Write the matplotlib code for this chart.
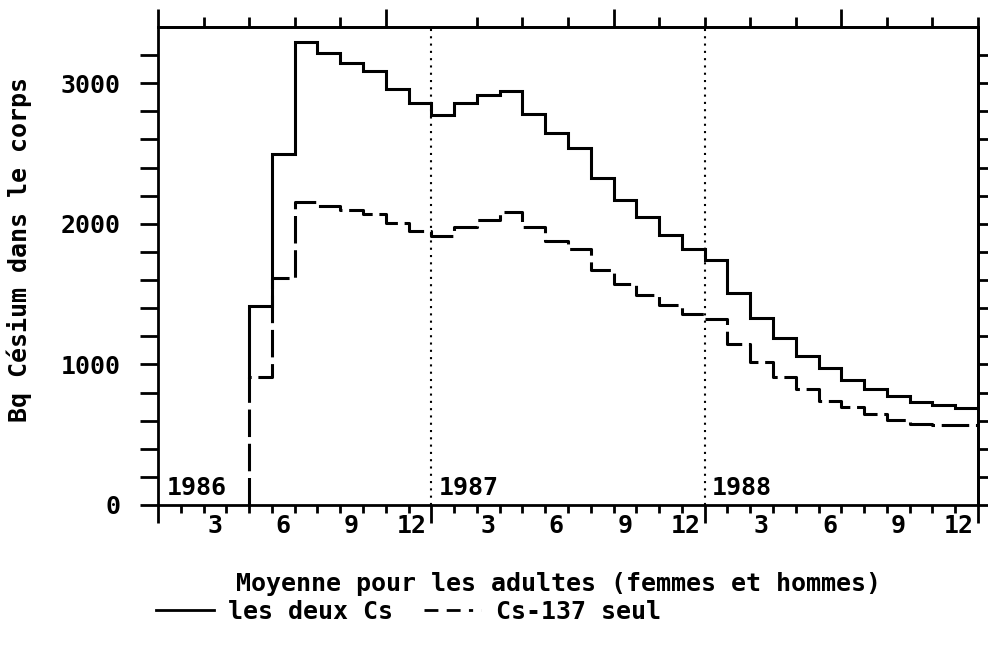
import numpy as np
import matplotlib
matplotlib.use("Agg")
import matplotlib.pyplot as plt
from matplotlib.lines import Line2D
from matplotlib.font_manager import FontProperties

# ---- data (month index from Jan 1986 = 0) ----
months = list(range(4, 36))
both_cs = [1415, 2500, 3295, 3213, 3145, 3090, 2960, 2857, 2777, 2857, 2914, 2946,
           2779, 2647, 2536, 2323, 2171, 2045, 1923, 1823, 1746, 1510, 1333, 1187,
           1062, 974, 892, 826, 774, 731, 708, 691]
cs137 = [908, 1616, 2154, 2128, 2100, 2071, 2005, 1948, 1911, 1977, 2029, 2081,
         1977, 1875, 1823, 1675, 1573, 1491, 1423, 1357, 1321, 1144, 1014, 908,
         826, 743, 696, 649, 602, 578, 566, 566]
years = ["1986", "1987", "1988"]
month_labels = [3, 6, 9, 12]
ylabel = "Bq Césium dans le corps"
xlabel = "Moyenne pour les adultes (femmes et hommes)"
series_labels = ["les deux Cs", "Cs-137 seul"]

FONT = dict(family="DejaVu Sans Mono", weight="bold", size=18)
FP = FontProperties(**FONT)
plt.rcParams["font.family"] = ["DejaVu Sans Mono", "DejaVu Sans"]
plt.rcParams["font.weight"] = "bold"

fig = plt.figure(figsize=(9.88, 6.49), dpi=100)
ax = fig.add_axes([158/988, 1-505/649, (978-158)/988, (505-27)/649])
ax.set_xlim(0, 36)
ax.set_ylim(0, 3400)

LW = 2.2
dash = (0, (9, 2.2))
# solid series (starts from the Cs-137 level at its first month)
xs = [months[0]] + months + [36]
ys_solid = [cs137[0]] + both_cs + [both_cs[-1]]
ax.step(xs, ys_solid, where="post", color="black", lw=LW, solid_joinstyle="miter")
ys_dash = [0] + cs137 + [cs137[-1]]
ax.step(xs, ys_dash, where="post", color="black", lw=LW, linestyle=dash)

# year separators
for i in (1, 2):
    ax.axvline(12*i, color="black", lw=1.5, linestyle=(0, (1, 2.5)))

for sp in ax.spines.values():
    sp.set_linewidth(2)

# bottom ticks
ax.set_xticks([0, 12, 24, 36])
ax.set_xticks(np.arange(0, 37, 1), minor=True)
ax.tick_params(axis="x", which="major", direction="out", length=13, width=2,
               labelbottom=False)
ax.tick_params(axis="x", which="minor", direction="out", length=6, width=2)

# left ticks
ax.set_yticks([0, 1000, 2000, 3000])
ax.set_yticks(np.arange(0, 3300, 200), minor=True)
ax.tick_params(axis="y", which="both", direction="out", length=13, width=2, pad=14)
ax.set_yticklabels(["0", "1000", "2000", "3000"], fontproperties=FP)

# right ticks
axr = ax.secondary_yaxis("right")
axr.set_yticks(np.arange(0, 3300, 200))
axr.tick_params(direction="out", length=7, width=2, labelright=False)
axr.spines["right"].set_linewidth(2)

# top ticks
axt = ax.secondary_xaxis("top")
top_long = [0, 10, 20, 30]
top_short = [m for m in range(2, 37, 2) if m not in top_long and m != 12]
axt.set_xticks(top_long)
axt.set_xticks(top_short, minor=True)
axt.tick_params(which="major", direction="out", length=13, width=2, labeltop=False)
axt.tick_params(which="minor", direction="out", length=7, width=2)
axt.spines["top"].set_linewidth(2)

# month labels
for yi in range(3):
    for m in month_labels:
        ax.annotate(str(m), xy=(12*yi + m, 0), xycoords=("data", "axes fraction"),
                    xytext=(-3, -15), textcoords="offset points",
                    ha="right", va="center", fontproperties=FP)
    ax.annotate(years[yi], xy=(12*yi, 0), xycoords=("data", "axes fraction"),
                xytext=(5 if yi else 6, 12), textcoords="offset points",
                ha="left", va="center", fontproperties=FP)

fig.text(558/988, 1-584/649, xlabel, ha="center", va="center", fontproperties=FP)
fig.text(19/988, 1-250/649, ylabel, ha="center", va="center", rotation=90,
         fontproperties=FP)

handles = [Line2D([], [], color="black", lw=2),
           Line2D([], [], color="black", lw=2, linestyle=(0, (5, 3, 5, 3, 1.5, 3)))]
fig.legend(handles, series_labels, loc="center left",
           bbox_to_anchor=(156/988, 1-612/649), ncol=2, frameon=False,
           handlelength=2.3, handletextpad=0.6, columnspacing=1.2,
           borderpad=0, borderaxespad=0, prop=FP)

fig.savefig("out.png", dpi=100)
